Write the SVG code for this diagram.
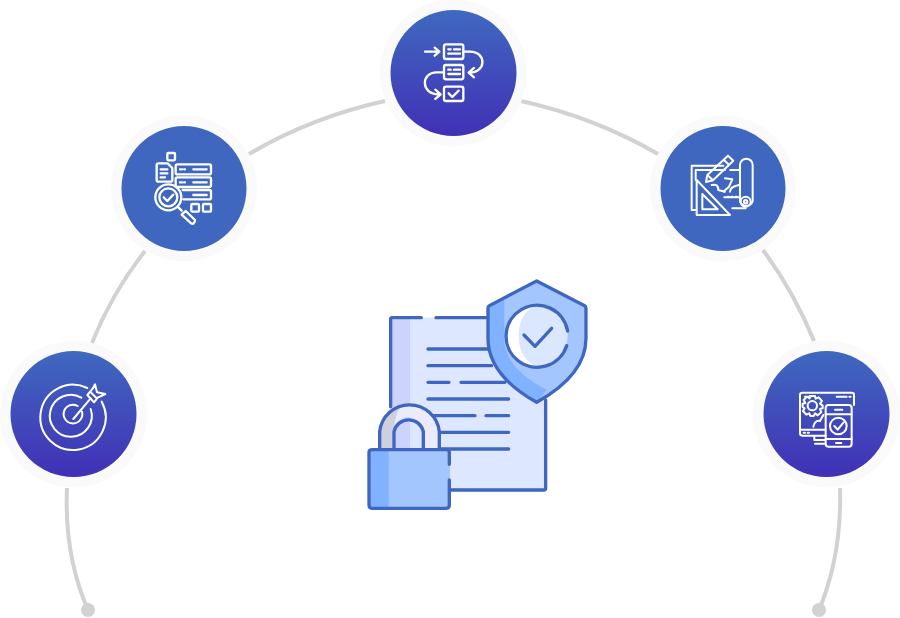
<svg xmlns="http://www.w3.org/2000/svg" width="900" height="618" viewBox="0 0 900 618">
<defs>
<linearGradient id="grad" x1="0" y1="0" x2="0" y2="1"><stop offset="0" stop-color="#3f69bf"/><stop offset="1" stop-color="#4130b6"/></linearGradient>
</defs>
<style>
.arc{fill:none;stroke:#d2d2d2;stroke-width:4;stroke-linecap:butt}
.dot{fill:#d2d2d2}
.halo{fill:#fafafa}
.grad{fill:url(#grad)}
.flat{fill:#3f67bf}
.ic{fill:none;stroke:#fff;stroke-width:7;stroke-linecap:round;stroke-linejoin:round}
.thin{stroke-width:6}
.b{fill:none;stroke:#3f67bf;stroke-width:10;stroke-linecap:round;stroke-linejoin:round}
</style>
<rect width="900" height="618" fill="#fff"/>
<g id="connectors">
<path class="arc" d="M92,343Q112,293 145,251"/>
<path class="arc" d="M249,154Q312,117 385,101"/>
<path class="arc" d="M521,101Q594,117 658,154"/>
<path class="arc" d="M763,250Q794,292 814,341"/>
<path class="arc" d="M67,488Q64,555 88,610"/>
<path class="arc" d="M840,488Q842,555 819,610"/>
<circle class="dot" cx="88" cy="610" r="7"/>
<circle class="dot" cx="819" cy="610" r="7"/>
</g>
<g id="node-process">
<circle class="halo" cx="453.500" cy="73" r="73.500"/><circle class="grad" cx="453.500" cy="73" r="63"/>
<g class="ic" transform="translate(380,0) scale(.3333)">
<path d="M135,155H178M164,143L178,155L164,167"/>
<rect x="192" y="133" width="58" height="44" rx="6"/><path d="M205,148H212M222,148H240M205,161H240"/>
<rect x="192" y="195" width="58" height="43" rx="6"/><path d="M205,209H212M222,209H240M205,222H240"/>
<rect x="192" y="260" width="58" height="43" rx="6"/><path d="M206,280L217,291L236,272"/>
<path d="M250,155H270C320,155 320,218 268,218M282,204L266,218L282,232"/>
<path d="M192,217H170C122,217 122,283 175,283H180M166,269L182,283L166,297"/>
</g>
</g>
<g id="node-data-review">
<circle class="halo" cx="184" cy="188.500" r="73"/><circle class="flat" cx="184" cy="188.500" r="62.500"/>
<g class="ic" transform="translate(115,120) scale(.3333)">
<rect x="157" y="99" width="23" height="22" rx="3"/>
<path d="M125,135Q125,130 130,130H158L172,144V180Q172,185 167,185H130Q125,185 125,180V135Z"/>
<path d="M137,148H157M137,160H157M137,172H150"/>
<rect x="182" y="133" width="106" height="30" rx="5"/><path d="M195,148H201M207,148H210M235,148H275"/>
<rect x="182" y="172" width="106" height="29" rx="5"/><path d="M195,187H201M207,187H210M235,187H275"/>
<path d="M203,210H283Q288,210 288,215V233Q288,238 283,238H205M235,225H275"/>
<circle cx="160" cy="232" r="39"/><circle cx="160" cy="232" r="27"/>
<path d="M146,232L157,243L175,224"/>
<path d="M190,262L200,272M200,284L212,273L240,300Q241,306 235,311Q229,312 226,308Z"/>
<rect x="229" y="252" width="23" height="23" rx="3"/><rect x="264" y="252" width="24" height="23" rx="3"/>
</g>
</g>
<g id="node-blueprint">
<circle class="halo" cx="723" cy="188.500" r="73"/><circle class="flat" cx="723" cy="188.500" r="62.500"/>
<g class="ic thin" transform="translate(655,120) scale(.3333)">
<path d="M205,137H110V270H125M210,150H122V180M226,150H255M232,265H272"/>
<path d="M255,135A19,19 0 0 1 293,135V245A21,21 0 0 1 255,245Z"/>
<circle cx="272" cy="245" r="15"/><circle cx="272" cy="245" r="5"/>
<path d="M125,180V285H225Z"/><path d="M142,222V268H188Z"/>
<path d="M153,186L157,165L219,107L235,122L174,181ZM206,119L222,134M157,165L174,181"/>
<path d="M170,195Q190,190 190,210L210,215M210,175L232,178L222,200L205,215M225,215Q225,200 252,195M208,232H250"/>
<path d="M218,230H221M230,230H233M242,230H245"/>
</g>
</g>
<g id="node-target">
<circle class="halo" cx="73.500" cy="414" r="73.500"/><circle class="grad" cx="73.500" cy="414" r="63"/>
<g class="ic thin" transform="translate(0,345) scale(.3333)">
<path d="M262,129A98,98 0 1 0 305,170"/>
<path d="M244,158A63,63 0 1 0 272,192"/>
<path d="M233,183A28,28 0 1 0 246,200"/>
<path d="M220,222L272,160"/>
<path d="M262,150L278,131L285,118L291,142L316,147L293,158L282,172ZM272,142L290,160"/>
</g>
</g>
<g id="node-devices">
<circle class="halo" cx="826.500" cy="414" r="73.500"/><circle class="grad" cx="826.500" cy="414" r="63"/>
<g class="ic thin" transform="translate(755,345) scale(.3333)">
<path d="M212,272H142Q135,272 135,265V150Q135,143 142,143H290Q297,143 297,150V180M135,254H210M146,263H150M158,263H162M245,155H275M283,155H287M150,155H154M163,155H167M178,272V285H208M180,296H208"/>
<rect x="212" y="180" width="78" height="125" rx="9"/>
<path d="M212,208H290M212,282H290M240,194H262M243,294H259"/>
<circle cx="250" cy="243" r="25"/>
<path d="M238,243L248,254L266,232"/>
<circle cx="172" cy="182" r="14"/>
<path d="M164,153H180L182,161L191,157L201,168L195,176L203,182L203,190L195,192L199,202L188,211L180,205L176,213H166L163,205L154,209L144,198L149,190L143,186V176L151,174L146,165L156,155L164,160Z"/>
<path d="M175,245Q180,225 195,228L205,210"/>
</g>
</g>
<g id="node-center" transform="translate(360,275) scale(.3333)">
<rect x="92" y="128" width="465" height="517" fill="#dde7ff"/>
<rect x="92" y="128" width="58" height="400" fill="#cdd3ff"/>
<path class="b" d="M92,395V132Q92,128 96,128H184M228,128H385M557,375V640Q557,645 552,645H270"/>
<path class="b" d="M204,222H385M204,272H395M204,322H267M303,322H435M204,372H446M220,422H345M378,422H446M240,472H446M240,522H446"/>
<path d="M530,18L674,92Q678,94 678,100V190Q678,300 530,382Q384,300 384,190V100Q384,94 388,92Z" fill="#a4c6ff"/>
<path d="M433,68V190Q433,280 560,345L530,382Q384,300 384,190V100Q384,94 388,92Z" fill="#81b2ff"/>
<path class="b" d="M530,18L674,92Q678,94 678,100V190Q678,300 530,382Q384,300 384,190V100Q384,94 388,92Z"/>
<circle cx="530" cy="182" r="93" fill="#dbe7ff"/>
<path d="M530,89A93,93 0 0 0 530,275Q476,250 476,182Q476,114 530,89Z" fill="#fff"/>
<path class="b" d="M623,168A93,93 0 1 0 620,212"/>
<path class="b" d="M492,180L525,214L575,160"/>
<path d="M59,525V470A90,90 0 0 1 238,470V525H190V470A41,41 0 0 0 102,470V525Z" fill="#ecebfb"/>
<path d="M59,525V470A90,90 0 0 1 148,381Q102,395 102,470V525Z" fill="#cfd0de"/>
<path class="b" d="M59,522V470A90,90 0 0 1 238,470V522M102,522V470A45,45 0 0 1 190,470V522"/>
<path d="M27,532Q27,522 37,522H260Q270,522 270,532V690Q270,700 260,700H37Q27,700 27,690Z" fill="#a4c6ff"/>
<path d="M27,532Q27,522 37,522H86V700H37Q27,700 27,690Z" fill="#81b2ff"/>
<path class="b" d="M268,568V532Q268,524 258,524H37Q27,524 27,532V690Q27,700 37,700H258Q268,700 268,690V615"/>
</g>
</svg>
